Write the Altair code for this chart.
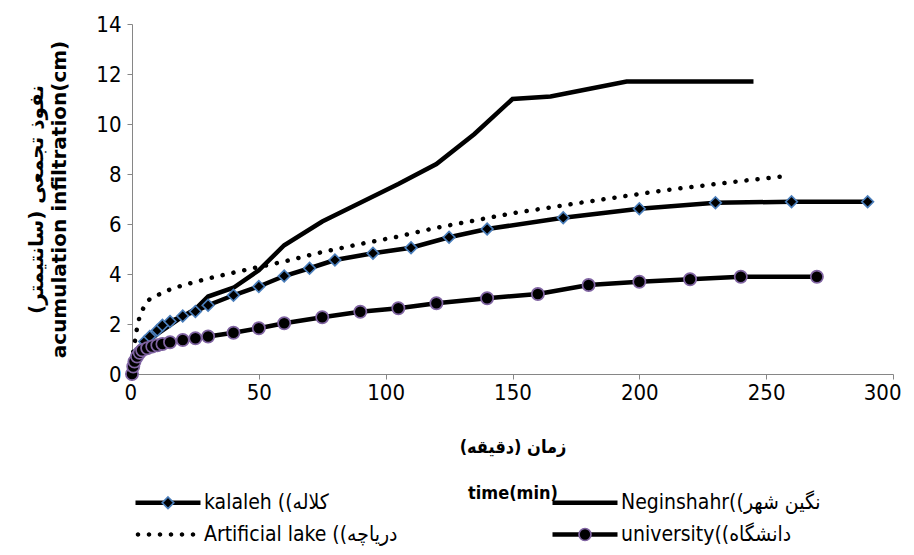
import altair as alt
import pandas as pd

# ---- data ----
KAL = "kalaleh ((کلاله"
NEG = "Neginshahr((نگین شهر"
LAKE = "Artificial lake ((دریاچه"
UNI = "university((دانشگاه"
# legend order (column-major: left column kalaleh / lake, right column Neginshahr / university)
series_names = [KAL, LAKE, NEG, UNI]

kal_t = [0, 1, 2, 3, 5, 7, 10, 12, 15, 20, 25, 30, 40, 50, 60, 70, 80, 95, 110, 125, 140, 170, 200, 230, 260, 290]
kal_v = [0, 0.5, 0.75, 0.95, 1.3, 1.5, 1.75, 1.95, 2.1, 2.32, 2.5, 2.75, 3.15, 3.5, 3.92, 4.23, 4.56, 4.83, 5.05, 5.47, 5.8, 6.25, 6.61, 6.85, 6.89, 6.89]

neg_t = [0, 1, 3, 5, 10, 15, 20, 25, 30, 40, 50, 60, 75, 90, 105, 120, 135, 150, 165, 180, 195, 210, 225, 245]
neg_v = [0, 0.5, 0.9, 1.2, 1.6, 1.95, 2.3, 2.6, 3.1, 3.45, 4.15, 5.15, 6.1, 6.85, 7.6, 8.4, 9.6, 11.0, 11.1, 11.4, 11.7, 11.7, 11.7, 11.7]

lake_t = [0, 0.5, 2, 3, 5, 7, 10, 15, 20, 30, 45, 60, 75, 90, 105, 120, 150, 180, 210, 240, 258]
lake_v = [0, 0.9, 1.85, 2.3, 2.75, 3.0, 3.15, 3.38, 3.55, 3.82, 4.17, 4.5, 4.88, 5.2, 5.5, 5.85, 6.43, 6.9, 7.35, 7.72, 7.92]

uni_t = [0, 0.5, 1, 2, 3, 4, 6, 8, 10, 12, 15, 20, 25, 30, 40, 50, 60, 75, 90, 105, 120, 140, 160, 180, 200, 220, 240, 270]
uni_v = [0, 0.3, 0.5, 0.7, 0.85, 0.95, 1.03, 1.1, 1.15, 1.2, 1.27, 1.36, 1.43, 1.5, 1.65, 1.83, 2.03, 2.27, 2.49, 2.63, 2.83, 3.03, 3.2, 3.56, 3.69, 3.79, 3.89, 3.89]

x_ticks = [0, 50, 100, 150, 200, 250, 300]
y_ticks = [0, 2, 4, 6, 8, 10, 12, 14]

x_title = ["زمان (دقیقه)\u200f", "time(min)"]
y_title = ["نفوذ تجمعی (سانتیمتر)\u200f", "acumulation infiltration(cm)"]

rows = []
for name, ts, vs in [(KAL, kal_t, kal_v), (NEG, neg_t, neg_v), (LAKE, lake_t, lake_v), (UNI, uni_t, uni_v)]:
    for t, v in zip(ts, vs):
        rows.append({"t": t, "v": v, "series": name})
df = pd.DataFrame(rows)
leg_df = pd.DataFrame({"series": series_names})

NARROW = "Liberation Sans Narrow, DejaVu Sans Condensed, Liberation Sans, sans-serif"
WIDE = "DejaVu Sans, Liberation Sans, sans-serif"
GREY = "#868686"

x_enc = alt.X("t:Q", scale=alt.Scale(domain=[0, 300], nice=False),
              axis=alt.Axis(values=x_ticks, title=x_title, grid=False,
                            domainColor=GREY, tickColor=GREY, tickSize=5,
                            labelFont=NARROW, labelFontSize=22, labelColor="black",
                            labelPadding=3, labelFlush=True, labelFlushOffset=8,
                            titleFont=NARROW, titleFontSize=18, titleFontWeight="bold",
                            titleColor="black", titleLineHeight=46,
                            titleBaseline="middle", titleY=73))
y_enc = alt.Y("v:Q", scale=alt.Scale(domain=[0, 14], nice=False),
              axis=alt.Axis(values=y_ticks, title=y_title, grid=False,
                            domainColor=GREY, tickColor=GREY, tickSize=5,
                            labelFont=NARROW, labelFontSize=22, labelColor="black",
                            labelPadding=6,
                            titleFont=WIDE, titleFontSize=20, titleFontWeight="bold",
                            titleColor="black", titleLineHeight=23,
                            titleBaseline="middle", titleAlign="center",
                            titleX=-96, titleY=175))

base = alt.Chart(df).encode(x=x_enc, y=y_enc)

solid = base.transform_filter(
    alt.FieldOneOfPredicate(field="series", oneOf=[KAL, NEG, UNI])
).mark_line(color="black", strokeWidth=4.5).encode(detail="series:N")

dotted = base.transform_filter(
    alt.FieldEqualPredicate(field="series", equal=LAKE)
).mark_line(color="black", strokeWidth=4.5, strokeDash=[0.1, 11], strokeCap="round")

kal_pts = base.transform_filter(
    alt.FieldEqualPredicate(field="series", equal=KAL)
).mark_point(shape="diamond", filled=True, fill="black", stroke="#4A7EBB",
             strokeWidth=1.7, size=135, opacity=1)

uni_pts = base.transform_filter(
    alt.FieldEqualPredicate(field="series", equal=UNI)
).mark_point(shape="circle", filled=True, fill="black", stroke="#8064A2",
             strokeWidth=1.7, size=150, opacity=1)

# ---- legend symbols (line part and marker part, overlaid) ----
def dots(centres):
    return "".join(f"M{c-0.45:.2f},0A0.45,0.45 0 1,0 {c+0.45:.2f},0A0.45,0.45 0 1,0 {c-0.45:.2f},0Z" for c in centres)

path_solid = "M-1,-0.45H12V0.45H-1Z"
path_dots = dots([-0.5, 1.7, 3.9, 6.1, 8.3, 10.5])
paths_line = [path_solid, path_dots, path_solid, path_solid]

path_diamond = "M-1,0M12,0M5.5,-1.15L6.65,0L5.5,1.15L4.35,0Z"
path_circle = "M-1,0M12,0M4.3,0A1.2,1.2 0 1,0 6.7,0A1.2,1.2 0 1,0 4.3,0Z"
paths_marker = [path_diamond, path_diamond, path_diamond, path_circle]

common = dict(orient="none", legendX=-2, legendY=468, columns=2, columnPadding=149,
              rowPadding=10, symbolSize=100, symbolStrokeWidth=1.7, labelOffset=53,
              labelFont=NARROW, labelFontSize=21, labelColor="black", labelLimit=500,
              title=None, padding=0, symbolOpacity=1)

legA = alt.Chart(leg_df).mark_point(filled=True, color="black", opacity=0).encode(
    shape=alt.Shape("series:N", scale=alt.Scale(domain=series_names, range=paths_line),
                    legend=alt.Legend(symbolFillColor="black", **common))
)

legB_legend = alt.Legend(labelOpacity=0, **common)
legB = alt.Chart(leg_df).mark_point(filled=True, opacity=0).encode(
    shape=alt.Shape("series:N", scale=alt.Scale(domain=series_names, range=paths_marker),
                    legend=legB_legend),
    fill=alt.Fill("series:N", scale=alt.Scale(domain=series_names,
                  range=["black", "transparent", "transparent", "black"]), legend=legB_legend),
    stroke=alt.Stroke("series:N", scale=alt.Scale(domain=series_names,
                      range=["#4A7EBB", "transparent", "transparent", "#8064A2"]), legend=legB_legend),
)

chart = alt.layer(solid, dotted, kal_pts, uni_pts, legA, legB).resolve_scale(
    shape="independent", fill="independent", stroke="independent"
).resolve_legend(
    shape="independent", fill="independent", stroke="independent"
).properties(
    width=761, height=350,
    padding={"left": 124, "top": 16, "right": 13, "bottom": 173},
    autosize=alt.AutoSizeParams(type="none"),
    background="white",
).configure_view(stroke=None)

chart.save("out.html", embed_options={"renderer": "svg", "actions": False})
